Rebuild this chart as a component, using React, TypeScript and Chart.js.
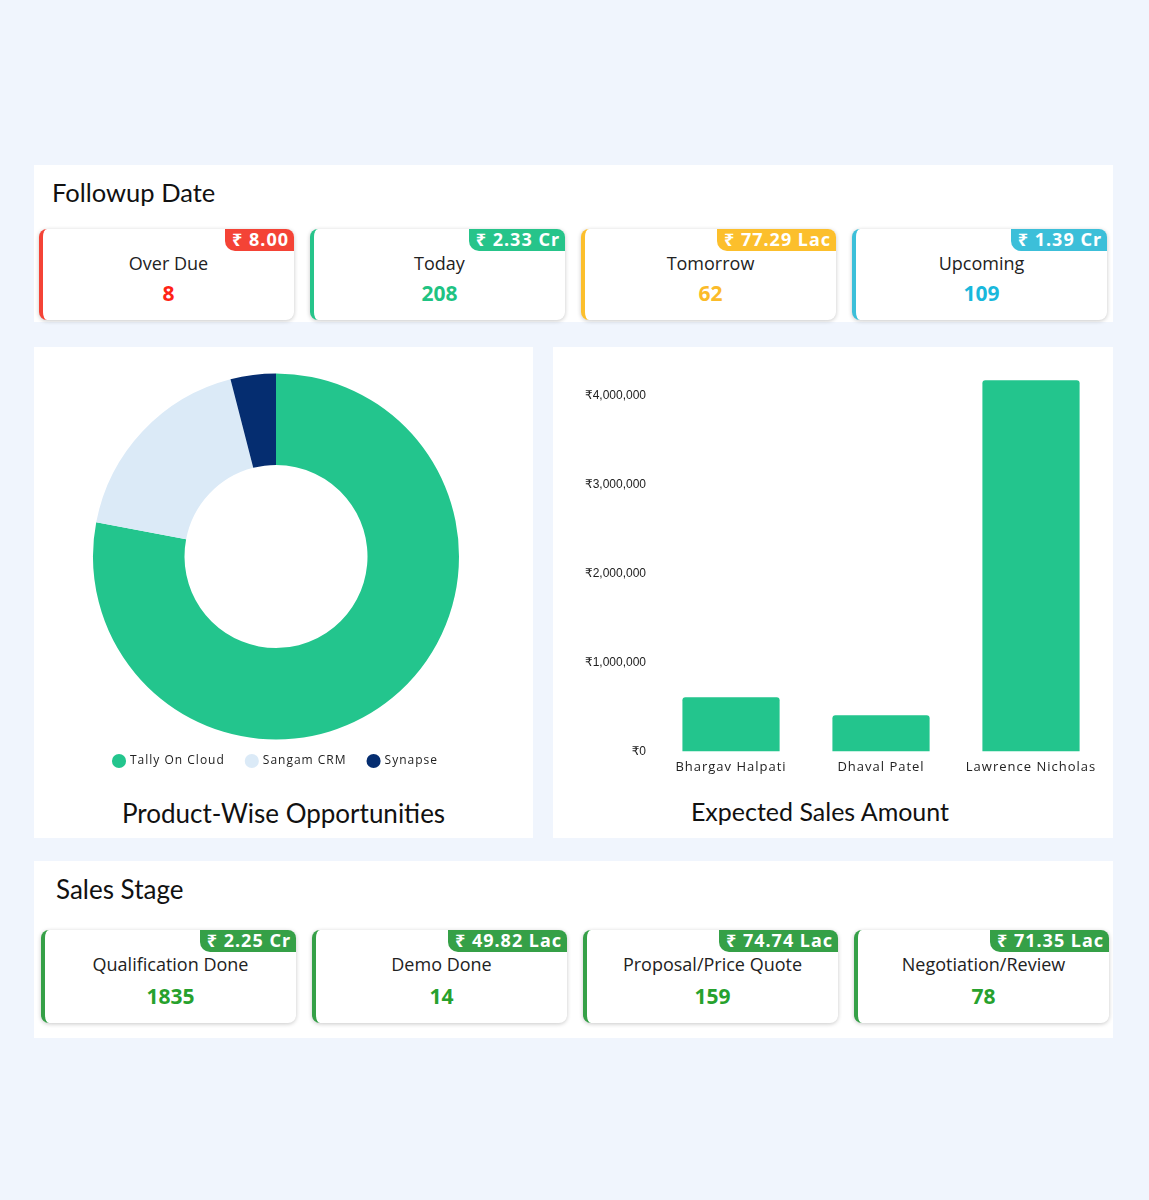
import React, { useEffect, useRef } from "react";
import { Chart, registerables } from "chart.js";

Chart.register(...registerables);

// ---------- data ----------
const followupLabels = ["Over Due", "Today", "Tomorrow", "Upcoming"];
const followupCounts = [8, 208, 62, 109];
const followupAmounts = ["₹ 8.00", "₹ 2.33 Cr", "₹ 77.29 Lac", "₹ 1.39 Cr"];
const followupAccent = ["#f44336", "#26c48a", "#fcbf2c", "#3cbfd9"];
const followupNumberColor = ["#ff2316", "#1fc383", "#fbbb29", "#19b8dc"];

const productLabels = ["Tally On Cloud", "Sangam CRM", "Synapse"];
const productValues = [78, 18, 4];
const productColors = ["#23c58d", "#dbeaf7", "#052d70"];

const salesPeople = ["Bhargav Halpati", "Dhaval Patel", "Lawrence Nicholas"];
const expectedSales = [608000, 406000, 4170000];
const salesAxisMax = 4250000;
const salesTickValues = [0, 1000000, 2000000, 3000000, 4000000];

const stageLabels = ["Qualification Done", "Demo Done", "Proposal/Price Quote", "Negotiation/Review"];
const stageCounts = [1835, 14, 159, 78];
const stageAmounts = ["₹ 2.25 Cr", "₹ 49.82 Lac", "₹ 74.74 Lac", "₹ 71.35 Lac"];
const stageAccent = "#35a047";
const stageNumberColor = "#27a12d";

// ---------- helpers ----------
const CARD_FONT = "'Open Sans', 'Noto Sans', sans-serif";
const TITLE_FONT = "Lato, 'Noto Sans', sans-serif";

function StatCard(props: {
  left: number;
  top: number;
  height: number;
  label: string;
  value: number;
  amount: string;
  accent: string;
  numberColor: string;
  labelY: number;
  valueY: number;
}) {
  const { left, top, height, label, value, amount, accent, numberColor, labelY, valueY } = props;
  return (
    <div
      style={{
        position: "absolute",
        left,
        top,
        width: 255,
        height,
        boxSizing: "border-box",
        background: "#fff",
        borderRadius: 8,
        borderLeft: `4px solid ${accent}`,
        boxShadow: "0 1px 4px rgba(0,0,0,0.22)",
        fontFamily: CARD_FONT,
      }}
    >
      <div
        style={{
          position: "absolute",
          right: 0,
          top: 0,
          height: 22,
          lineHeight: "20px",
          padding: "0 5px 0 7px",
          background: accent,
          color: "#fff",
          fontWeight: 700,
          fontSize: 18,
          letterSpacing: 1,
          borderRadius: "0 8px 0 10px",
          fontFamily: "'Noto Sans', 'Open Sans', sans-serif",
        }}
      >
        {amount}
      </div>
      <div
        style={{
          position: "absolute",
          left: 0,
          right: 0,
          top: labelY - 12,
          height: 24,
          lineHeight: "24px",
          textAlign: "center",
          fontSize: 18,
          color: "#222",
        }}
      >
        {label}
      </div>
      <div
        style={{
          position: "absolute",
          left: 0,
          right: 0,
          top: valueY - 14,
          height: 28,
          lineHeight: "28px",
          textAlign: "center",
          fontSize: 21,
          fontWeight: 700,
          color: numberColor,
        }}
      >
        {value}
      </div>
    </div>
  );
}

function spacingPlugin(px: string, resetBefore: boolean) {
  return {
    id: "letterSpacingPlugin",
    beforeLayout(chart: any) {
      chart.ctx.letterSpacing = px;
    },
    beforeDraw(chart: any) {
      chart.ctx.letterSpacing = resetBefore ? "0px" : px;
    },
    afterDatasetsDraw(chart: any) {
      chart.ctx.letterSpacing = px;
    },
  };
}

function DonutChart() {
  const ref = useRef<HTMLCanvasElement | null>(null);
  useEffect(() => {
    if (!ref.current) return;
    const chart = new Chart(ref.current, {
      type: "doughnut",
      data: {
        labels: productLabels,
        datasets: [
          {
            data: productValues,
            backgroundColor: productColors,
            borderWidth: 0,
            radius: 183,
            clip: false,
          },
        ],
      },
      options: {
        animation: false,
        responsive: false,
        maintainAspectRatio: false,
        cutout: "50%",
        layout: { padding: { top: 7, bottom: 0, left: 0, right: 0 } },
        plugins: {
          tooltip: { enabled: false },
          legend: {
            position: "bottom",
            labels: {
              usePointStyle: true,
              pointStyle: "circle",
              boxHeight: 10,
              boxWidth: 10,
              padding: 22,
              color: "#222",
              font: { family: "'Open Sans', sans-serif", size: 12 },
            },
          },
        },
      },
      plugins: [spacingPlugin("1px", false)],
    } as any);
    return () => chart.destroy();
  }, []);
  return <canvas ref={ref} width={460} height={404} style={{ position: "absolute", left: 46, top: 373, width: 460, height: 404 }} />;
}

function BarChart() {
  const ref = useRef<HTMLCanvasElement | null>(null);
  useEffect(() => {
    if (!ref.current) return;
    const chart = new Chart(ref.current, {
      type: "bar",
      data: {
        labels: salesPeople,
        datasets: [
          {
            data: expectedSales,
            backgroundColor: "#23c58d",
            borderWidth: 0,
            borderRadius: 3,
            borderSkipped: "bottom",
            barPercentage: 0.9,
            categoryPercentage: 0.72,
          },
        ],
      },
      options: {
        animation: false,
        responsive: false,
        maintainAspectRatio: false,
        layout: { padding: { left: 0, right: 6, top: 0, bottom: 0 } },
        plugins: {
          legend: { display: false },
          tooltip: { enabled: false },
        },
        scales: {
          x: {
            grid: { display: false, drawTicks: false },
            border: { display: false },
            ticks: {
              z: 1,
              color: "#222",
              padding: 8,
              font: { family: "'Open Sans', sans-serif", size: 13 },
              maxRotation: 0,
            },
          },
          y: {
            min: 0,
            max: salesAxisMax,
            grid: { display: false, drawTicks: false },
            border: { display: false },
            afterBuildTicks: (scale: any) => {
              scale.ticks = salesTickValues.map((v) => ({ value: v }));
            },
            ticks: {
              color: "#222",
              padding: 10,
              font: { family: "'Liberation Sans', 'DejaVu Sans', sans-serif", size: 12 },
              callback: (v: any) => "₹" + Number(v).toLocaleString("en-US"),
            },
          },
        },
      },
      plugins: [spacingPlugin("1px", true)],
    } as any);
    return () => chart.destroy();
  }, []);
  return <canvas ref={ref} width={547} height={427} style={{ position: "absolute", left: 565, top: 356, width: 547, height: 427 }} />;
}

export default function App() {
  return (
    <div
      style={{
        position: "absolute",
        left: 0,
        top: 0,
        width: 1149,
        height: 1200,
        background: "#f0f5fd",
        overflow: "hidden",
      }}
    >
      {/* Followup Date section */}
      <div style={{ position: "absolute", left: 34, top: 165, width: 1079, height: 157, background: "#fff" }}>
        <div
          style={{
            position: "absolute",
            left: 18,
            top: 12,
            lineHeight: "30px",
            fontSize: 25.5,
            fontFamily: TITLE_FONT,
            color: "#111",
          }}
        >
          Followup Date
        </div>
        {followupLabels.map((l, i) => (
          <StatCard
            key={l}
            left={5 + i * 271}
            top={64}
            height={91}
            label={l}
            value={followupCounts[i]}
            amount={followupAmounts[i]}
            accent={followupAccent[i]}
            numberColor={followupNumberColor[i]}
            labelY={34}
            valueY={64}
          />
        ))}
      </div>

      {/* Donut section */}
      <div style={{ position: "absolute", left: 34, top: 347, width: 499, height: 491, background: "#fff" }} />
      <DonutChart />
      <div
        style={{
          position: "absolute",
          left: 34,
          width: 499,
          top: 797,
          lineHeight: "32px",
          textAlign: "center",
          fontSize: 26,
          fontFamily: TITLE_FONT,
          color: "#111",
        }}
      >
        Product-Wise Opportunities
      </div>

      {/* Bar section */}
      <div style={{ position: "absolute", left: 553, top: 347, width: 560, height: 491, background: "#fff" }} />
      <BarChart />
      <div
        style={{
          position: "absolute",
          left: 553,
          width: 534,
          top: 795,
          lineHeight: "32px",
          textAlign: "center",
          fontSize: 25,
          fontFamily: TITLE_FONT,
          color: "#111",
        }}
      >
        Expected Sales Amount
      </div>

      {/* Sales Stage section */}
      <div style={{ position: "absolute", left: 34, top: 861, width: 1079, height: 177, background: "#fff" }}>
        <div
          style={{
            position: "absolute",
            left: 22,
            top: 13,
            lineHeight: "30px",
            fontSize: 26,
            fontFamily: TITLE_FONT,
            color: "#111",
          }}
        >
          Sales Stage
        </div>
        {stageLabels.map((l, i) => (
          <StatCard
            key={l}
            left={7 + i * 271}
            top={69}
            height={93}
            label={l}
            value={stageCounts[i]}
            amount={stageAmounts[i]}
            accent={stageAccent}
            numberColor={stageNumberColor}
            labelY={34}
            valueY={66}
          />
        ))}
      </div>
    </div>
  );
}
